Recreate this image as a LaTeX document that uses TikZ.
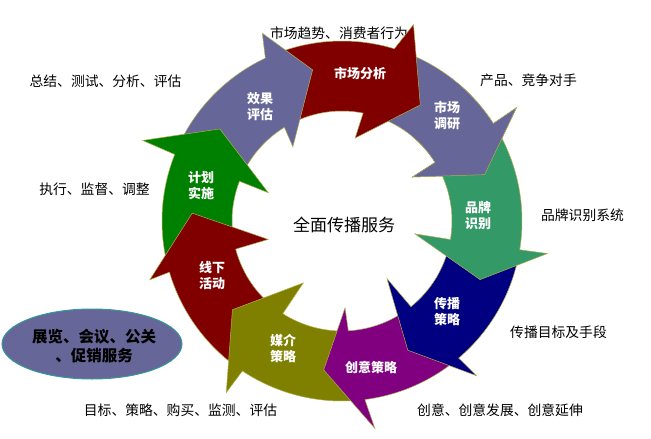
\documentclass[tikz,border=0pt]{standalone}
\usepackage{fontspec}
\usetikzlibrary{shapes.geometric}
\newfontfamily\cjk{Noto Sans CJK SC}
\definecolor{cDarkRed}{HTML}{800000}
\definecolor{cSlate}{HTML}{666699}
\definecolor{cSea}{HTML}{339966}
\definecolor{cNavy}{HTML}{000080}
\definecolor{cPurple}{HTML}{800080}
\definecolor{cOlive}{HTML}{808000}
\definecolor{cGreen}{HTML}{008000}
\definecolor{cEdge}{RGB}{175,175,80}
\definecolor{cEllEdge}{HTML}{339999}
\newcommand\ringarrow[8]{%
  \path[arrowshape, fill=#1] (#2:180) arc[start angle=#2, end angle=#3, radius=180pt]
    -- #4 -- #5 -- #6 -- (#7:110) arc[start angle=#7, end angle=#8, radius=110pt] -- cycle;}
\begin{document}
\begin{tikzpicture}[x=1pt,y=1pt,
  arrowshape/.style={draw=cEdge, line width=0.5pt, line join=miter},
  outlabel/.style={font=\cjk\fontsize{13.8}{16}\selectfont, text=black, inner sep=0pt},
  inlabel/.style={font=\cjk\bfseries\fontsize{13}{16}\selectfont, text=white, align=center, inner sep=0pt},
]
\useasboundingbox (0,0) rectangle (651,-439);
\fill[white] (0,0) rectangle (651,-439);

% outer labels (drawn first: the top arrow partly covers one)
\node[outlabel] (lTop) at (339,-33) {市场趋势、消费者行为};
\node[outlabel] (lProd) at (528.5,-80) {产品、竞争对手};
\node[outlabel] (lBrand) at (582.5,-215) {品牌识别系统};
\node[outlabel] (lComm) at (558.5,-332) {传播目标及手段};
\node[outlabel] (lCreat) at (500,-410) {创意、创意发展、创意延伸};
\node[outlabel] (lMedia) at (180.5,-410) {目标、策略、购买、监测、评估};
\node[outlabel] (lExec) at (94.5,-189) {执行、监督、调整};
\node[outlabel] (lSum) at (105.5,-81) {总结、测试、分析、评估};

\begin{scope}[shift={(342,-221)}]
  % drawn counter-clockwise so each head lies over the next tail
  \ringarrow{cSlate}{71.6}{32.8}{(33:208)}{(18:150)}{(32:83)}{32.2}{77.4}
  \ringarrow{cDarkRed}{113.7}{73.1}{(70:209)}{(56:140)}{(81:84)}{78.9}{120.1}
  \ringarrow{cSlate}{156.8}{115.2}{(113:204)}{(101:154)}{(123.5:89)}{121.6}{157.3}
  \ringarrow{cGreen}{195}{158.3}{(158:215)}{(143:153)}{(159:79)}{158.8}{193.3}
  \ringarrow{cDarkRed}{-125.1}{-163.5}{(-163:201)}{(-183:150)}{(-166:76)}{-165.2}{-124.1}
  \ringarrow{cOlive}{-84.2}{-123.6}{(-124:207)}{(-141:141)}{(-122:73)}{-122.6}{-88.2}
  \ringarrow{cPurple}{-51.1}{-82.7}{(-81:210)}{(-97:150)}{(-88:87)}{-86.7}{-52.7}
  \ringarrow{cNavy}{-10.7}{-49.6}{(-49:205)}{(-63:145)}{(-52:73)}{-51.2}{-11.2}
  \ringarrow{cSea}{31.3}{-9.2}{(-9:208)}{(-23:150)}{(-10:74)}{-9.7}{30.7}
  % head of the first arrow again, over the tail of the green one
  \begin{scope}
    \clip (0,0) -- (50:260) arc[start angle=50, end angle=-40, radius=260pt] -- cycle;
    \ringarrow{cSlate}{71.6}{32.8}{(33:208)}{(18:150)}{(32:83)}{32.2}{77.4}
  \end{scope}
\end{scope}

% labels inside the arrows
\node[inlabel] (tA) at (360,-73) {市场分析};
\node[inlabel] (tB) at (447,-116) {市场\\调研};
\node[inlabel] (tC) at (478,-216) {品牌\\识别};
\node[inlabel] (tD) at (447,-312) {传播\\策略};
\node[inlabel] (tE) at (371,-367) {创意策略};
\node[inlabel] (tF) at (283,-348) {媒介\\策略};
\node[inlabel] (tG) at (212,-276) {线下\\活动};
\node[inlabel] (tH) at (201,-186) {计划\\实施};
\node[inlabel] (tI) at (260,-107) {效果\\评估};

% centre
\node[font=\cjk\fontsize{17}{20}\selectfont, inner sep=0pt] (centre) at (344,-225) {全面传播服务};

% ellipse
\node[draw=cEllEdge, line width=1pt, fill=cSlate, ellipse,
      minimum width=180pt, minimum height=70pt, inner sep=0pt] (ell) at (92,-344) {};
\node[font=\cjk\bfseries\fontsize{15.5}{19}\selectfont, align=center, inner sep=0pt] (ellText) at (94,-346)
  {展览、会议、公关\\、促销服务};
\end{tikzpicture}
\end{document}
